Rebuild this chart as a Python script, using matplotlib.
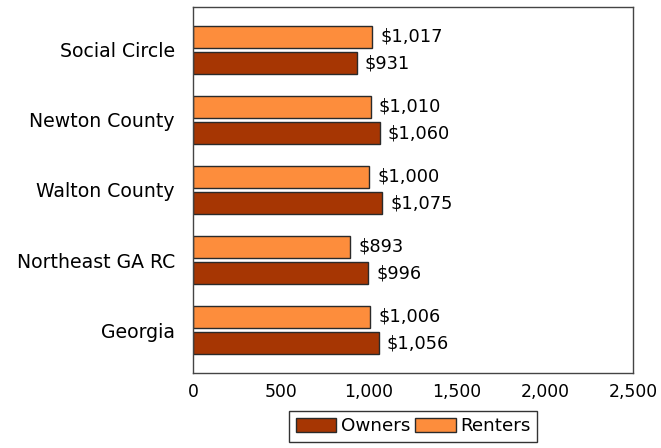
import numpy as np
import matplotlib.pyplot as plt
from matplotlib.ticker import FuncFormatter

# Data (bottom to top)
places = ["Georgia", "Northeast GA RC", "Walton County", "Newton County", "Social Circle"]
owners = [1056, 996, 1075, 1060, 931]
renters = [1006, 893, 1000, 1010, 1017]

owner_color = "#A63603"
renter_color = "#FD8D3C"

plt.rcParams["font.family"] = "DejaVu Sans"

fig = plt.figure(figsize=(6.61, 4.48), dpi=100)
ax = fig.add_axes([0.292, 0.1674, 0.666, 0.8170])

y = np.arange(len(places))
h = 0.31
off = 0.19

b_own = ax.barh(y - off, owners, height=h, color=owner_color,
                edgecolor="#2a2a2a", linewidth=1.0, label="Owners")
b_ren = ax.barh(y + off, renters, height=h, color=renter_color,
                edgecolor="#2a2a2a", linewidth=1.0, label="Renters")

for bars, vals in [(b_own, owners), (b_ren, renters)]:
    for bar, v in zip(bars, vals):
        ax.text(v + 45, bar.get_y() + bar.get_height() / 2, "${:,}".format(v),
                va="center", ha="left", fontsize=12.8)

ax.set_xlim(0, 2500)
ax.set_ylim(-0.614, len(places) - 1 + 0.614)
ax.set_xticks([0, 500, 1000, 1500, 2000, 2500])
ax.xaxis.set_major_formatter(FuncFormatter(lambda v, p: "{:,.0f}".format(v)))
ax.set_yticks(y)
ax.set_yticklabels(places)
ax.tick_params(axis="x", length=0, labelsize=12.4, pad=7)
ax.tick_params(axis="y", length=0, labelsize=13.6, pad=13)

for s in ax.spines.values():
    s.set_color("#444444")
    s.set_linewidth(1.0)

ax.legend(loc="upper center", bbox_to_anchor=(0.5, -0.104), ncol=2,
          fontsize=13.2, frameon=True, fancybox=False, edgecolor="black",
          handlelength=2.2, handleheight=0.75, handletextpad=0.25,
          columnspacing=0.3, borderpad=0.35, borderaxespad=0)

fig.savefig("out.png", dpi=100)
